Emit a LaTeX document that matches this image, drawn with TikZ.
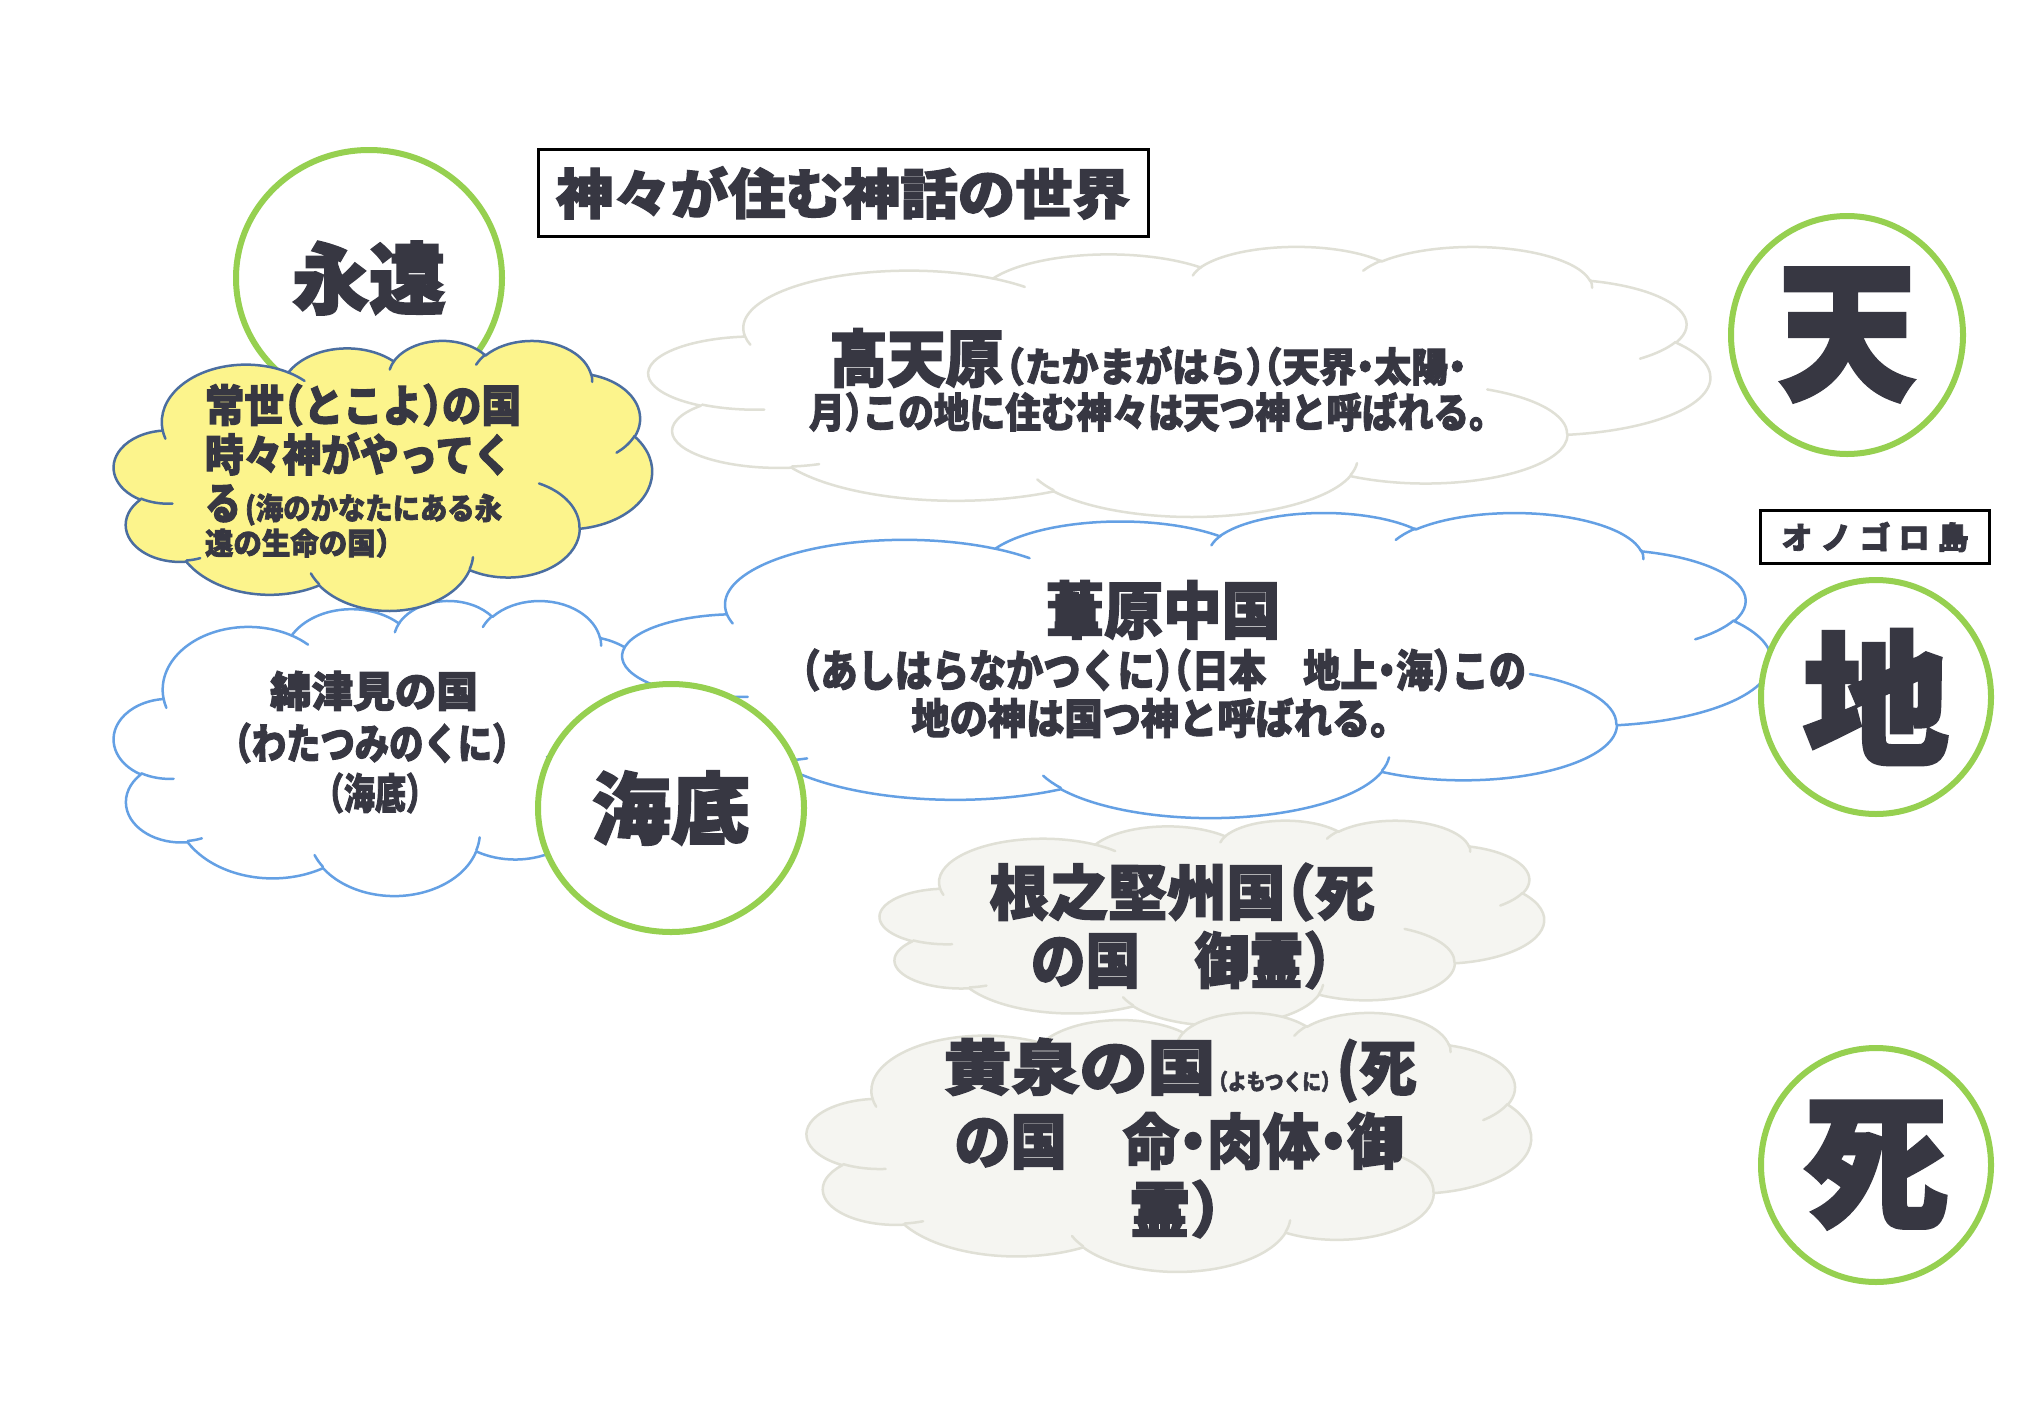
\documentclass[tikz,border=0pt]{standalone}
\usepackage{fontspec}
\usepackage{graphicx}
\newfontfamily\jp{Noto Sans CJK JP}[BoldFeatures={FakeBold=2.5}]
\usetikzlibrary{shapes.geometric}
\definecolor{ink}{RGB}{55,55,66}
\definecolor{ringgreen}{RGB}{150,208,80}
\definecolor{skyblue}{RGB}{100,160,228}
\definecolor{lemon}{RGB}{252,244,140}
\definecolor{lemonedge}{RGB}{75,110,160}
\definecolor{mist}{RGB}{245,245,241}
\definecolor{mistedge}{RGB}{224,224,214}
\newcommand\LN[3]{{\fontsize{#1pt}{#1pt}\selectfont\resizebox{#2pt}{\height}{#3}}}
\newcommand\hw[1]{{\addfontfeature{RawFeature=+halt}#1}}
% one arc of the office cloud outline: wR hR stAng swAng (visual angles)
\newcommand\oarc[4]{arc[x radius=#1,y radius=#2,start angle={atan2(#1*sin(#3),#2*cos(#3))},delta angle={mod(atan2(#1*sin(#3+#4),#2*cos(#3+#4))-atan2(#1*sin(#3),#2*cos(#3))+720,360)}]}
\newcommand\cloudpath{(39.00,143.70) \oarc{67.53}{91.90}{-190.4875}{123.7805} \oarc{53.33}{72.67}{-144.1024}{89.9452} \oarc{43.65}{59.45}{-145.8079}{99.7230} \oarc{48.57}{65.95}{-130.9861}{117.2417} \oarc{53.33}{72.73}{-78.7089}{109.0269} \oarc{67.75}{92.20}{-46.2673}{130.2690} \oarc{57.85}{78.67}{0.6250}{114.0333} \oarc{67.52}{92.15}{22.4516}{115.1726} \oarc{77.20}{105.43}{66.2426}{75.7110} \oarc{43.60}{59.18}{-274.9421}{146.7356} \oarc{43.45}{59.45}{-246.8285}{152.5189} -- cycle}
\newcommand\cloudcreases{(46.93,261.77) \oarc{43.45}{59.45}{86.7420}{26.4295} (69.28,348.99) \oarc{43.60}{59.18}{73.6105}{11.4475} (164.78,390.90) \oarc{67.52}{92.15}{137.6242}{14.0811} (288.27,347.51) \oarc{67.52}{92.15}{6.4533}{15.9984} (341.29,229.54) \oarc{57.85}{78.67}{-70.2924}{70.9174} (417.98,153.54) \oarc{53.33}{72.73}{30.3180}{27.7515} (383.24,54.26) \oarc{48.57}{65.95}{-13.7443}{14.8589} (290.78,39.52) \oarc{48.57}{65.95}{-149.1815}{18.1954} (221.41,47.20) \oarc{43.65}{59.45}{-163.4943}{17.6864} (140.00,51.92) \oarc{67.53}{91.90}{-66.7070}{12.3194} (41.27,157.89) \oarc{67.53}{91.90}{157.6544}{11.8582}}
% x0 y0 W H edge fill
\newcommand\pcloud[6]{%
  \pgfmathsetmacro\cux{#3/432}\pgfmathsetmacro\cuy{#4/432}%
  \begin{scope}[shift={(#1,#2)},x=\cux pt,y=-\cuy pt]
    \draw[draw=#5,fill=#6,line width=2.5pt,line join=round] \cloudpath;
    \draw[draw=#5,line width=2.5pt,line cap=round] \cloudcreases;
  \end{scope}}
\begin{document}
\begin{tikzpicture}[x=1pt,y=-1pt,
  every node/.style={inner sep=0pt,outer sep=0pt,text=ink,font=\jp\bfseries},
  ring/.style={ellipse,draw=ringgreen,line width=6pt,fill=white},
  framed/.style={draw=black,line width=3pt}]
\useasboundingbox[fill=white] (0,0) rectangle (2034,1424);

% heaven cloud
\pcloud{649}{246}{1061}{270}{mistedge}{white}
\node (t1) at (1148,358) {\LN{62}{174}{高天原}\hspace{3pt}\LN{40}{460}{\hw{（たかまがはら）（天界・太陽・}}};
\node (t2) at (1148,412) {\LN{41}{678}{\hw{月）この地に住む神々は天つ神と呼ばれる。}}};

% watatsumi cloud and ashihara cloud
\pcloud{114}{600}{548}{295}{skyblue}{white}
\pcloud{623}{512}{1148}{305}{skyblue}{white}
\node (w1) at (374,691) {\LN{42}{208}{綿津見の国}};
\node (w2) at (372,743) {\LN{42}{309}{（わたつみのくに）}};
\node (w3) at (375,793) {\LN{42}{124}{（海底）}};
\node (a1) at (1163,610) {\LN{62}{235}{葦原中国}};
\node (a2) at (1164,670) {\LN{44}{724}{\hw{（あしはらなかつくに）（日本　地上・海）この}}};
\node (a3) at (1160,718) {\LN{42}{497}{地の神は国つ神と呼ばれる。}};

% eternity
\node[ring,minimum width=266pt,minimum height=256pt] (eien) at (369,278) {\LN{78}{154}{永遠}};
\pcloud{114}{340}{538}{270}{lemonedge}{lemon}
\node[anchor=west] (y1) at (205,405) {\LN{44}{316}{\hw{常世（とこよ）の国}}};
\node[anchor=west] (y2) at (205,454) {\LN{44}{307}{時々神がやってく}};
\node[anchor=west] (y3) at (205,505) {\LN{44}{36}{る}\hspace{4pt}\LN{30}{257}{(海のかなたにある永}};
\node[anchor=west] (y4) at (205,543) {\LN{30}{185}{\hw{遠の生命の国）}}};

% sea bottom
\node[ring,minimum width=266pt,minimum height=248pt] (kaitei) at (671,808) {\LN{78}{158}{海底}};

% underworld clouds
\pcloud{880}{820}{664}{205}{mistedge}{mist}
\node (n1) at (1182,892) {\LN{60}{385}{\hw{根之堅州国（死}}};
\node (n2) at (1181,960) {\LN{60}{300}{\hw{の国　御霊）}}};
\pcloud{807}{1012}{724}{259}{mistedge}{mist}
\node (m1) at (1180,1070) {\LN{60}{272}{黄泉の国}\hspace{3pt}\LN{22}{112}{\hw{（よもつくに）}}\hspace{6pt}\LN{60}{80}{(死}};
\node (m2) at (1179,1141) {\LN{60}{449}{\hw{の国　命・肉体・御}}};
\node (m3) at (1175,1209) {\LN{60}{92}{\hw{霊）}}};

% title
\node[framed,minimum width=610pt,minimum height=87pt] (title) at (843,193) {\LN{54}{574}{神々が住む神話の世界}};

% right column
\node[ring,minimum width=232pt,minimum height=238pt] (ten) at (1847,335) {\LN{150}{137}{天}};
\node[draw=black,line width=2.5pt,minimum width=229pt,minimum height=53pt] (onogoro) at (1875,537) {{\fontsize{31pt}{31pt}\selectfont\makebox[187pt][s]{オ\hfil ノ\hfil ゴ\hfil ロ\hfil 島}}};
\node[ring,minimum width=230pt,minimum height=234pt] (chi) at (1876,697) {\LN{145}{146}{地}};
\node[ring,minimum width=230pt,minimum height=234pt] (shi) at (1876,1165) {\LN{145}{144}{死}};
\end{tikzpicture}
\end{document}
